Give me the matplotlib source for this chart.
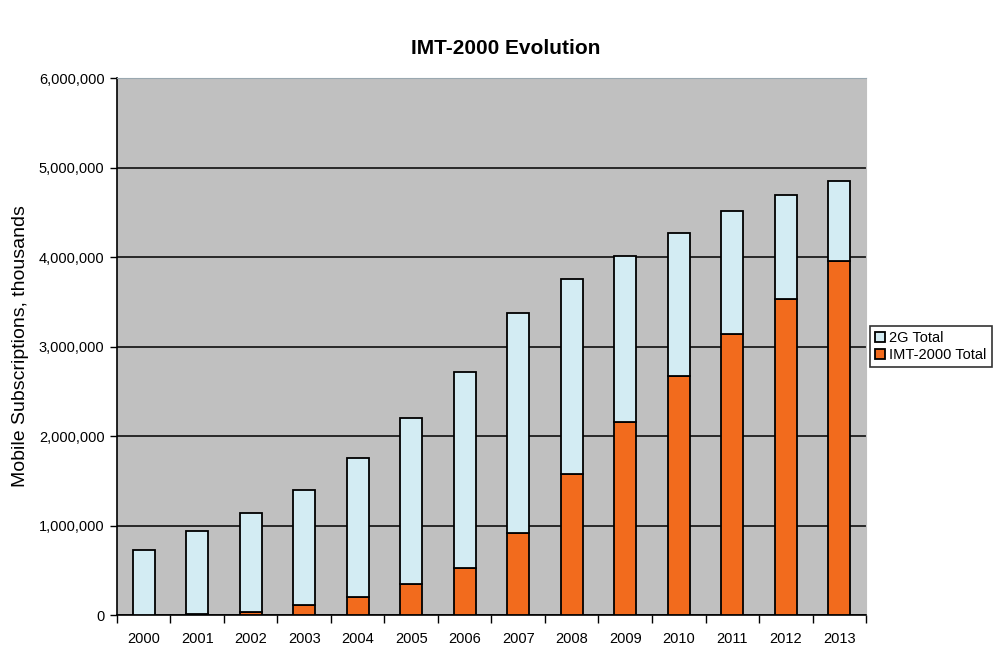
import matplotlib
matplotlib.use('Agg')
import matplotlib.pyplot as plt
from matplotlib.ticker import FuncFormatter

plt.rcParams['font.family'] = ['Liberation Sans', 'DejaVu Sans']

years = ['2000', '2001', '2002', '2003', '2004', '2005', '2006',
         '2007', '2008', '2009', '2010', '2011', '2012', '2013']
imt2000 = [0, 15000, 30000, 109000, 206000, 345000, 524000,
           918000, 1581000, 2161000, 2667000, 3142000, 3536000, 3951000]
g2 = [727000, 929000, 1112000, 1292000, 1551000, 1854000, 2191000,
      2453000, 2179000, 1846000, 1603000, 1371000, 1153000, 895000]

fig = plt.figure(figsize=(10.05, 6.52), dpi=100)
ax = fig.add_axes([0.1164, 0.0567, 0.7453, 0.8236])
ax.set_facecolor('#c0c0c0')

x = range(len(years))
w = 0.41
b1 = ax.bar(x, imt2000, w, color='#f26b1d', edgecolor='black', linewidth=1.3,
            label='IMT-2000 Total', zorder=3)
b2 = ax.bar(x, g2, w, bottom=imt2000, color='#d3ecf3', edgecolor='black',
            linewidth=1.3, label='2G Total', zorder=3)

ax.set_ylim(0, 6000000)
ax.set_xlim(-0.5, len(years) - 0.5)
ax.set_yticks(range(0, 6000001, 1000000))
ax.yaxis.set_major_formatter(FuncFormatter(lambda v, p: '{:,}'.format(int(v))))
ax.yaxis.grid(True, color='black', linewidth=1.1)
ax.set_axisbelow(True)

# tick marks between categories, labels at centres
ax.set_xticks([i - 0.5 for i in range(len(years) + 1)])
ax.set_xticklabels([])
ax.set_xticks(list(x), minor=True)
ax.set_xticklabels(years, minor=True)
ax.tick_params(axis='x', which='major', length=6, width=1, color='black')
ax.tick_params(axis='x', which='minor', length=0, pad=12, labelsize=10.5)
ax.tick_params(axis='y', length=5, width=1, color='black', labelsize=10.5, pad=4)

ax.spines['left'].set_linewidth(1.2)
ax.spines['bottom'].set_linewidth(1.2)
ax.spines['top'].set_color('#9aa8b0')
ax.spines['right'].set_color('#c0c0c0')

ax.set_ylabel('Mobile Subscriptions, thousands', fontsize=14, labelpad=7)
fig.text(0.503, 0.926, 'IMT-2000 Evolution', ha='center', va='center',
         fontsize=15, fontweight='bold')

leg = ax.legend([b2, b1], ['2G Total', 'IMT-2000 Total'], loc='center left',
                bbox_to_anchor=(1.005, 0.5), fontsize=10.5, frameon=True,
                fancybox=False, handlelength=0.7, handleheight=0.7,
                handletextpad=0.3, borderpad=0.35, labelspacing=0.25,
                borderaxespad=0)
leg.get_frame().set_edgecolor('black')
leg.get_frame().set_linewidth(1.2)

fig.savefig('out.png', dpi=100)
